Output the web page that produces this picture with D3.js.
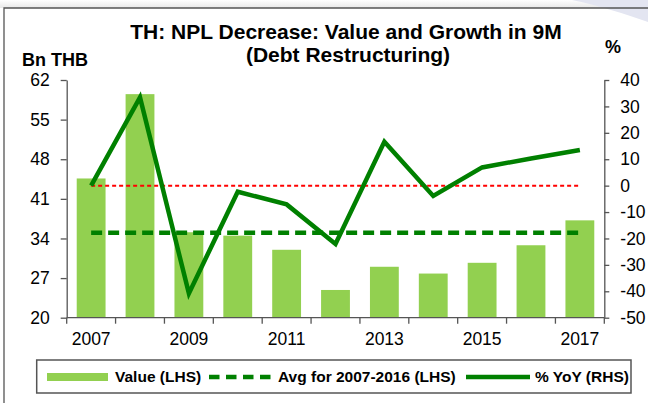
<!DOCTYPE html>
<html>
<head>
<meta charset="utf-8"/>
<style>
  body { margin: 0; background: #fff; }
  text { font-family: "Liberation Sans", Arial, sans-serif; fill: #000; }
</style>
</head>
<body>
<script src="https://d3js.org/d3.v7.min.js"></script>
<script>
var width = 648, height = 403;

// data
var years = ["2007","2008","2009","2010","2011","2012","2013","2014","2015","2016","2017"];
var valueBn = [44.6, 59.5, 35.1, 34.5, 32.0, 24.9, 29.0, 27.8, 29.7, 32.8, 37.2];
var yoyPct = [0, 33.4, -40.8, -2.3, -7.1, -22.1, 16.6, -3.9, 6.9, 10.3, 13.5];
var avgValue = 35.0;
var leftTicks = [20, 27, 34, 41, 48, 55, 62];
var rightTicks = [-50, -40, -30, -20, -10, 0, 10, 20, 30, 40];
var yearLabels = ["2007","2009","2011","2013","2015","2017"];

var svg = d3.select("body").append("svg")
    .attr("width", width)
    .attr("height", height);

// slide frame bits
var grad = svg.append("defs").append("linearGradient")
    .attr("id", "topfade").attr("x1", 0).attr("x2", 0).attr("y1", 0).attr("y2", 1);
grad.append("stop").attr("offset", "0%").attr("stop-color", "#ffffff");
grad.append("stop").attr("offset", "100%").attr("stop-color", "#e8e8e8");
svg.append("rect").attr("x", 0).attr("y", 0).attr("width", width).attr("height", 8)
    .attr("fill", "url(#topfade)");
svg.append("path")
    .attr("d", "M572,0 C600,6 625,14 648,22 L648,0 Z")
    .attr("fill", "#e3e5f1");
svg.append("path")
    .attr("d", "M4,403 L4,8 L648,8")
    .attr("fill", "none").attr("stroke", "#555").attr("stroke-width", 1.3);

var plotL = 66.7, plotR = 604.3, plotT = 80, plotB = 317.7;

var x = d3.scaleBand().domain(years).range([plotL, plotR])
    .paddingInner(0.41).paddingOuter(0.205);
var yL = d3.scaleLinear().domain([20, 62]).range([plotB, plotT]);
var yR = d3.scaleLinear().domain([-50, 40]).range([plotB, plotT]);
var cx = function(d) { return x(d) + x.bandwidth() / 2; };

// bars
svg.selectAll(".bar").data(years).enter().append("rect")
    .attr("class", "bar")
    .attr("x", function(d) { return x(d); })
    .attr("width", x.bandwidth())
    .attr("y", function(d, i) { return yL(valueBn[i]); })
    .attr("height", function(d, i) { return plotB - yL(valueBn[i]); })
    .attr("fill", "#92d050");

// zero line on right axis
svg.append("line")
    .attr("x1", cx(years[0])).attr("x2", cx(years[years.length - 1]))
    .attr("y1", yR(0)).attr("y2", yR(0))
    .attr("stroke", "#ff0000").attr("stroke-width", 2).attr("stroke-dasharray", "4,3");

// average line
svg.append("line")
    .attr("x1", cx(years[0])).attr("x2", cx(years[years.length - 1]))
    .attr("y1", yL(avgValue)).attr("y2", yL(avgValue))
    .attr("stroke", "#008000").attr("stroke-width", 4.5).attr("stroke-dasharray", "11,6");

// yoy line
var line = d3.line()
    .x(function(d, i) { return cx(years[i]); })
    .y(function(d) { return yR(d); });
svg.append("path").datum(yoyPct)
    .attr("d", line)
    .attr("fill", "none").attr("stroke", "#008000").attr("stroke-width", 4.5);

// axes
var axisColor = "#555";
var plain = function(d) { return String(d); };
var gL = svg.append("g").attr("transform", "translate(" + plotL + ",0)")
    .call(d3.axisLeft(yL).tickValues(leftTicks).tickFormat(plain)
      .tickSize(6).tickPadding(11).tickSizeOuter(0));
var gR = svg.append("g").attr("transform", "translate(" + plotR + ",0)")
    .call(d3.axisRight(yR).tickValues(rightTicks).tickFormat(plain)
      .tickSize(5).tickPadding(11).tickSizeOuter(0));
var gB = svg.append("g").attr("transform", "translate(0," + plotB + ")")
    .call(d3.axisBottom(x).tickValues(yearLabels).tickSize(0).tickPadding(15));
gB.select(".domain").attr("d", "M" + plotL + ",0H" + plotR);

// tick marks on band edges
var edges = years.map(function(d) { return x(d) - (x.step() - x.bandwidth()) / 2; });
edges.push(plotR);
gB.selectAll(".edge").data(edges).enter().append("line")
    .attr("class", "edge")
    .attr("x1", function(d) { return d; }).attr("x2", function(d) { return d; })
    .attr("y1", 0).attr("y2", 6)
    .attr("stroke", axisColor).attr("stroke-width", 1.3);

[gL, gR, gB].forEach(function(g) {
  g.selectAll(".domain, .tick line").attr("stroke", axisColor).attr("stroke-width", 1.3);
  g.selectAll("text").attr("font-size", 17.5).attr("fill", "#000")
    .attr("font-family", "'Liberation Sans', Arial, sans-serif");
});

// titles
svg.append("text").attr("x", 346).attr("y", 39).attr("text-anchor", "middle")
    .attr("font-size", 21).attr("font-weight", "bold")
    .text("TH: NPL Decrease: Value and Growth in 9M");
svg.append("text").attr("x", 348).attr("y", 62).attr("text-anchor", "middle")
    .attr("font-size", 21).attr("font-weight", "bold")
    .text("(Debt Restructuring)");
svg.append("text").attr("x", 22).attr("y", 66)
    .attr("font-size", 18).attr("font-weight", "bold").text("Bn THB");
svg.append("text").attr("x", 605).attr("y", 53)
    .attr("font-size", 18).attr("font-weight", "bold").text("%");

// legend
var lg = svg.append("g");
lg.append("rect").attr("x", 36.7).attr("y", 360).attr("width", 594.3).attr("height", 33)
    .attr("fill", "#fff").attr("stroke", "#555").attr("stroke-width", 1.5);
lg.append("rect").attr("x", 47).attr("y", 373).attr("width", 61).attr("height", 8)
    .attr("fill", "#92d050");
lg.append("line").attr("x1", 209).attr("x2", 271).attr("y1", 377).attr("y2", 377)
    .attr("stroke", "#008000").attr("stroke-width", 4.5).attr("stroke-dasharray", "10.5,6.5");
lg.append("line").attr("x1", 466).attr("x2", 530).attr("y1", 377).attr("y2", 377)
    .attr("stroke", "#008000").attr("stroke-width", 4.5);
var legendText = [["Value (LHS)", 115], ["Avg for 2007-2016 (LHS)", 278], ["% YoY (RHS)", 535]];
lg.selectAll(".lt").data(legendText).enter().append("text")
    .attr("class", "lt")
    .attr("x", function(d) { return d[1]; }).attr("y", 382)
    .attr("font-size", 15.5).attr("font-weight", "bold")
    .text(function(d) { return d[0]; });
</script>
</body>
</html>
